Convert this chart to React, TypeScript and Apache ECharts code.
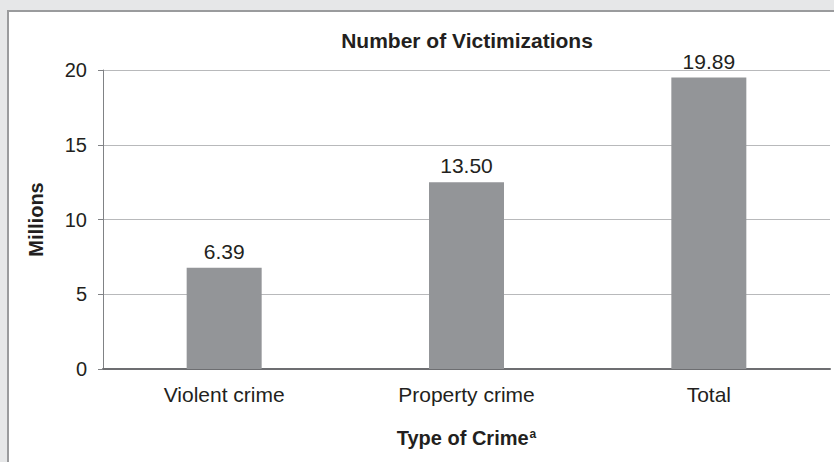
import React, { useEffect, useRef } from "react";
import * as echarts from "echarts";

const categories = ["Violent crime", "Property crime", "Total"];
// bar heights as drawn in the reference (millions)
const barValues = [6.77, 12.5, 19.49];
// printed value labels as they appear in the reference
const valueLabels = ["6.39", "13.50", "19.89"];
const yTicks = [0, 5, 10, 15, 20];

const FONT = "'Liberation Sans', Arial, Helvetica, sans-serif";
const TEXT = "#231f20";

export default function App() {
  const ref = useRef<HTMLDivElement>(null);
  useEffect(() => {
    document.body.style.margin = "0";
    if (!ref.current) return;
    const chart = echarts.init(ref.current, null, { renderer: "svg" });
    chart.setOption({
      animation: false,
      backgroundColor: "#e6e7e8",
      textStyle: { fontFamily: FONT, color: TEXT },
      graphic: {
        z: -10,
        elements: [
          {
            type: "rect",
            z: -10,
            silent: true,
            shape: { x: 8, y: 11, width: 900, height: 500 },
            style: { fill: "#ffffff", stroke: "#9a9b9d", lineWidth: 2 },
          },
          {
            type: "text",
            x: 467,
            y: 40,
            style: {
              text: "Number of Victimizations",
              fontFamily: FONT,
              fontWeight: "bold",
              fontSize: 21,
              fill: TEXT,
              align: "center",
              verticalAlign: "middle",
            },
          },
        ],
      },
      grid: { left: 103, right: 4, top: 70, bottom: 93 },
      xAxis: {
        type: "category",
        data: categories,
        axisLine: { lineStyle: { color: "#6d6e71", width: 2 } },
        axisTick: { show: false },
        axisLabel: { color: TEXT, fontSize: 21, fontFamily: FONT, margin: 15 },
        name: "{b|Type of Crime}{sup|a}",
        nameLocation: "middle",
        nameGap: 59,
        nameTextStyle: {
          rich: {
            b: { fontSize: 20, fontWeight: "bold", color: TEXT, fontFamily: FONT },
            sup: { fontSize: 12, fontWeight: "bold", color: TEXT, fontFamily: FONT, padding: [0, 0, 8, 1] },
          },
        },
      },
      yAxis: {
        type: "value",
        min: yTicks[0],
        max: yTicks[yTicks.length - 1],
        interval: 5,
        axisLine: { show: true, lineStyle: { color: "#808285", width: 1 } },
        axisTick: { show: true, length: 5, lineStyle: { color: "#808285" } },
        axisLabel: { color: TEXT, fontSize: 20, fontFamily: FONT, margin: 16 },
        splitLine: { lineStyle: { color: "#b8b9bb", width: 1 } },
        name: "Millions",
        nameLocation: "middle",
        nameGap: 57,
        nameRotate: 90,
        nameTextStyle: { fontSize: 20, fontWeight: "bold", color: TEXT, fontFamily: FONT },
      },
      series: [
        {
          type: "bar",
          data: barValues,
          barWidth: 75,
          itemStyle: { color: "#939598" },
          label: {
            show: true,
            position: "top",
            distance: 6,
            fontSize: 21,
            color: TEXT,
            fontFamily: FONT,
            formatter: (p: any) => valueLabels[p.dataIndex],
          },
        },
      ],
    });
    return () => chart.dispose();
  }, []);
  return <div ref={ref} style={{ width: 834, height: 462 }} />;
}
